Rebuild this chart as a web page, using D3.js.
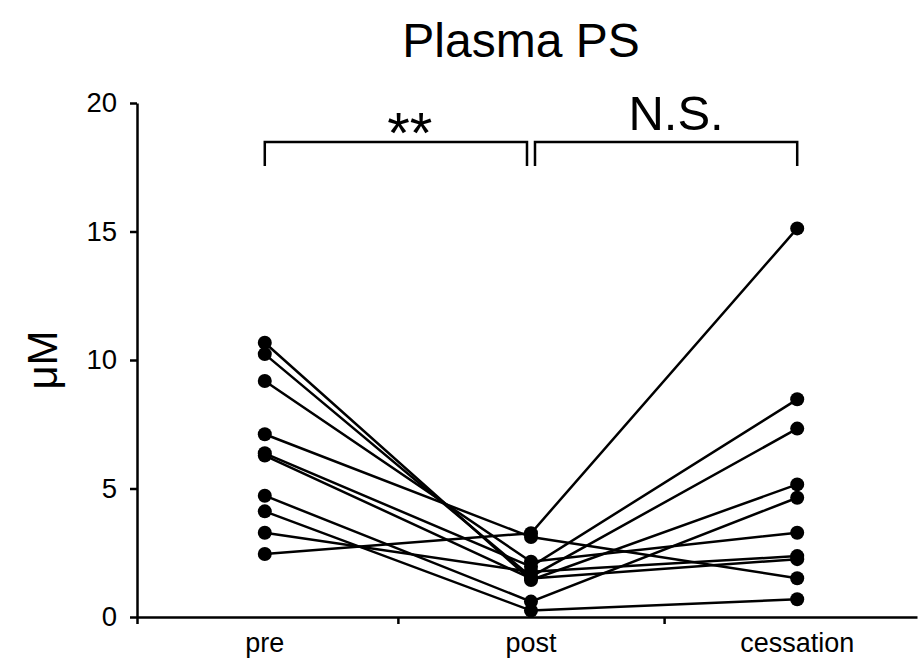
<!DOCTYPE html>
<html>
<head>
<meta charset="utf-8">
<script src="https://cdn.jsdelivr.net/npm/d3@7"></script>
<style>
  body { margin: 0; background: #fff; }
  svg text { font-family: "Liberation Sans", Arial, sans-serif; fill: #000; }
</style>
</head>
<body>
<script>
// timepoints and per-subject values (uM), one entry per subject
var categories = ["pre", "post", "cessation"];
var preValues = [2.45, 7.11, 4.72, 4.11, 3.28, 10.67, 10.23, 9.18, 6.37, 6.28];
var postValues = [3.26, 3.11, 0.60, 0.25, 1.76, 1.44, 1.57, 2.15, 1.96, 1.50];
var cessationValues = [15.12, 1.51, 4.64, 0.69, 2.37, 5.16, 7.33, 3.28, 8.47, 2.25];
var yTicks = [0, 5, 10, 15, 20];
var brackets = [
  {from: 0, to: 1, label: "**"},
  {from: 1, to: 2, label: "N.S."}
];

var width = 922, height = 660;

var svg = d3.select("body").append("svg")
    .attr("width", width)
    .attr("height", height);

var x = d3.scaleLinear().domain([-0.48, 2.45]).range([137, 917]);
var y = d3.scaleLinear().domain([0, 20]).range([617, 103]);

// axes
var yAxis = svg.append("g")
    .attr("transform", "translate(" + x(-0.48) + ",0)")
    .call(d3.axisLeft(y).tickValues(yTicks).tickSize(7).tickSizeOuter(0).tickPadding(13));
yAxis.selectAll("text").style("font-size", "27.5px");

var xAxis = svg.append("g")
    .attr("transform", "translate(0," + y(0) + ")")
    .call(d3.axisBottom(x).tickValues([-0.48, 0.5, 1.5]).tickFormat("").tickSize(7).tickSizeOuter(0));

svg.selectAll(".domain, .tick line")
    .attr("stroke", "#000")
    .attr("stroke-width", 2.5);

svg.selectAll(".cat-label")
    .data(categories)
    .enter().append("text")
    .attr("class", "cat-label")
    .attr("x", function(d, i) { return x(i); })
    .attr("y", 652)
    .attr("text-anchor", "middle")
    .style("font-size", "27px")
    .text(function(d) { return d; });

// subject lines
var subjects = preValues.map(function(d, i) {
  return [d, postValues[i], cessationValues[i]];
});

var line = d3.line()
    .x(function(d, i) { return x(i); })
    .y(function(d) { return y(d); });

svg.append("g").selectAll("path")
    .data(subjects)
    .enter().append("path")
    .attr("d", line)
    .attr("fill", "none")
    .attr("stroke", "#000")
    .attr("stroke-width", 2.5);

svg.append("g").selectAll("g")
    .data(subjects)
    .enter().append("g")
    .selectAll("circle")
    .data(function(d) { return d; })
    .enter().append("circle")
    .attr("cx", function(d, i) { return x(i); })
    .attr("cy", function(d) { return y(d); })
    .attr("r", 7)
    .attr("fill", "#000");

// significance brackets
var bTop = 142, bDrop = 24, gap = 4;
brackets.forEach(function(b) {
  var x0 = x(b.from) + (b.from === 1 ? gap : 0);
  var x1 = x(b.to) - (b.to === 1 ? gap : 0);
  svg.append("path")
      .attr("d", "M" + x0 + "," + (bTop + bDrop) + "V" + bTop + "H" + x1 + "V" + (bTop + bDrop))
      .attr("fill", "none")
      .attr("stroke", "#000")
      .attr("stroke-width", 2.5);
  var t = svg.append("text")
      .attr("text-anchor", "middle")
      .text(b.label);
  if (b.label === "**") {
    t.attr("x", (x0 + x1) / 2 + 14).attr("y", 153).style("font-size", "58px");
  } else {
    t.attr("x", (x0 + x1) / 2 + 10).attr("y", 130).style("font-size", "49px");
  }
});

// title and y label
svg.append("text")
    .attr("x", 521)
    .attr("y", 57)
    .attr("text-anchor", "middle")
    .style("font-size", "48px")
    .text("Plasma PS");

svg.append("text")
    .attr("transform", "translate(57," + y(10) + ")rotate(-90)")
    .attr("text-anchor", "middle")
    .style("font-size", "42px")
    .text("\u03bcM");
</script>
</body>
</html>
